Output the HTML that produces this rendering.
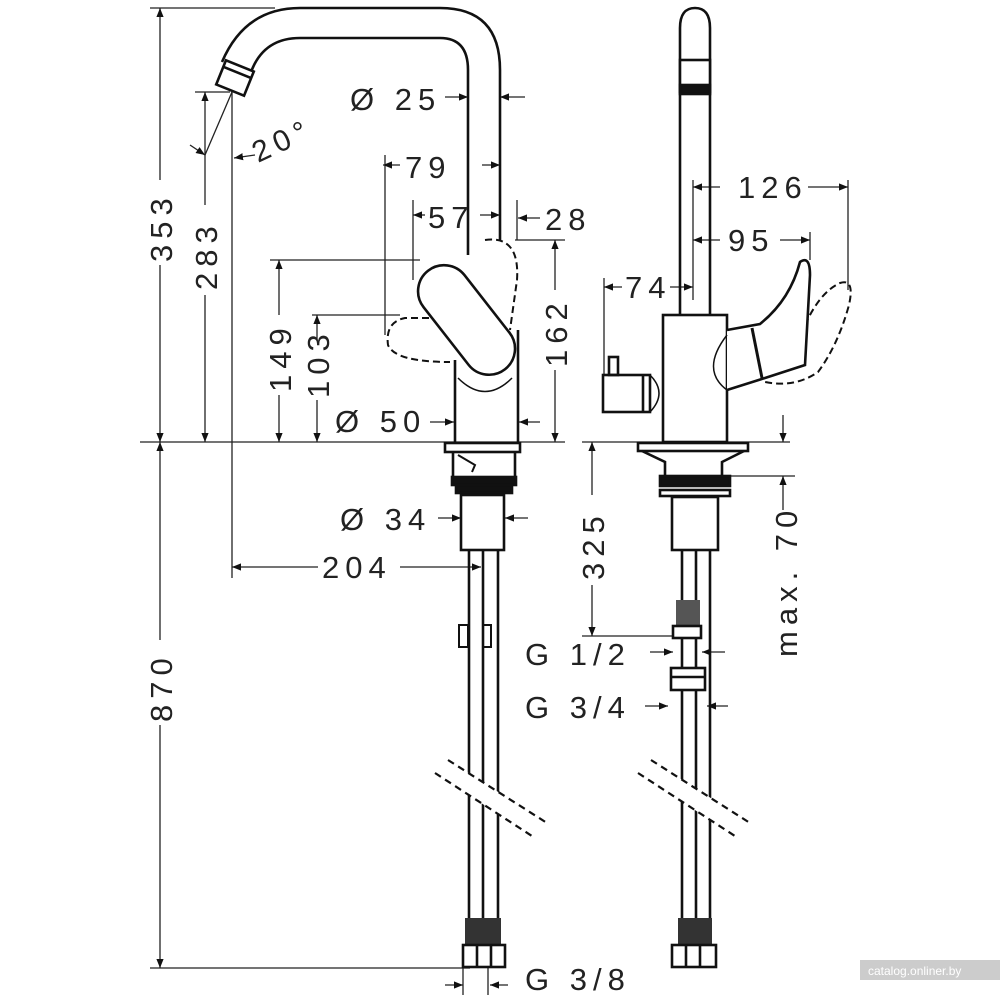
<!DOCTYPE html>
<html><head><meta charset="utf-8"><style>
html,body{margin:0;padding:0;background:#fff;}
svg{display:block;}
text{font-family:"Liberation Sans",sans-serif;font-size:31px;fill:#222;letter-spacing:6px;}
</style></head><body>
<svg width="1000" height="1000" viewBox="0 0 1000 1000" xmlns="http://www.w3.org/2000/svg">
<defs>
<marker id="a" viewBox="0 0 10 10" refX="10" refY="5" markerWidth="9" markerHeight="9" orient="auto-start-reverse" markerUnits="userSpaceOnUse"><path d="M0,1 L10,5 L0,9z" fill="#111"/></marker>
</defs>
<g stroke="#222" stroke-width="1.3" fill="none">
<line x1="140" y1="442" x2="565" y2="442"/>
<line x1="582" y1="442" x2="790" y2="442"/>
<line x1="150" y1="8" x2="275" y2="8"/>
<line x1="150" y1="968" x2="470" y2="968"/>
<line x1="195" y1="92" x2="230" y2="92"/>
<line x1="270" y1="260" x2="420" y2="260"/>
<line x1="312" y1="315" x2="400" y2="315"/>
<line x1="515" y1="240" x2="565" y2="240"/>
<line x1="385" y1="155" x2="385" y2="335"/>
<line x1="413" y1="200" x2="413" y2="280"/>
<line x1="232" y1="92" x2="232" y2="578"/>
<line x1="160" y1="8" x2="160" y2="180" marker-start="url(#a)"/>
<line x1="160" y1="265" x2="160" y2="442" marker-end="url(#a)"/>
<line x1="160" y1="442" x2="160" y2="640" marker-start="url(#a)"/>
<line x1="160" y1="725" x2="160" y2="968" marker-end="url(#a)"/>
<line x1="205" y1="92" x2="205" y2="205" marker-start="url(#a)"/>
<line x1="205" y1="295" x2="205" y2="442" marker-end="url(#a)"/>
<line x1="205" y1="155" x2="232" y2="92" />
<line x1="190" y1="145" x2="205" y2="155" marker-end="url(#a)"/>
<line x1="255" y1="155" x2="234" y2="158" marker-end="url(#a)"/>
<line x1="279" y1="260" x2="279" y2="315" marker-start="url(#a)"/>
<line x1="279" y1="395" x2="279" y2="442" marker-end="url(#a)"/>
<line x1="317" y1="315" x2="317" y2="340" marker-start="url(#a)"/>
<line x1="317" y1="400" x2="317" y2="442" marker-end="url(#a)"/>
<line x1="555" y1="240" x2="555" y2="290" marker-start="url(#a)"/>
<line x1="555" y1="370" x2="555" y2="442" marker-end="url(#a)"/>
<line x1="445" y1="97" x2="468" y2="97" marker-end="url(#a)"/>
<line x1="525" y1="97" x2="500" y2="97" marker-end="url(#a)"/>
<line x1="383" y1="165" x2="400" y2="165" marker-start="url(#a)"/>
<line x1="482" y1="165" x2="500" y2="165" marker-end="url(#a)"/>
<line x1="500" y1="150" x2="500" y2="240"/>
<line x1="413" y1="215" x2="425" y2="215" marker-start="url(#a)"/>
<line x1="480" y1="215" x2="500" y2="215" marker-end="url(#a)"/>
<line x1="517" y1="200" x2="517" y2="240"/>
<line x1="540" y1="218" x2="518" y2="218" marker-end="url(#a)"/>
<line x1="430" y1="422" x2="454" y2="422" marker-end="url(#a)"/>
<line x1="540" y1="422" x2="519" y2="422" marker-end="url(#a)"/>
<line x1="438" y1="518" x2="461" y2="518" marker-end="url(#a)"/>
<line x1="528" y1="518" x2="505" y2="518" marker-end="url(#a)"/>
<line x1="232" y1="567" x2="318" y2="567" marker-start="url(#a)"/>
<line x1="400" y1="567" x2="481" y2="567" marker-end="url(#a)"/>
<line x1="445" y1="985" x2="463" y2="985" marker-end="url(#a)"/>
<line x1="508" y1="985" x2="490" y2="985" marker-end="url(#a)"/>
<line x1="463" y1="968" x2="463" y2="995"/>
<line x1="488" y1="968" x2="488" y2="995"/>
<line x1="604" y1="278" x2="604" y2="400"/>
<line x1="604" y1="287" x2="622" y2="287" marker-start="url(#a)"/>
<line x1="670" y1="287" x2="693" y2="287" marker-end="url(#a)"/>
<line x1="693" y1="180" x2="693" y2="300"/>
<line x1="720" y1="187" x2="693" y2="187" marker-end="url(#a)"/>
<line x1="808" y1="187" x2="848" y2="187" marker-end="url(#a)"/>
<line x1="848" y1="180" x2="848" y2="290"/>
<line x1="720" y1="240" x2="693" y2="240" marker-end="url(#a)"/>
<line x1="780" y1="240" x2="810" y2="240" marker-end="url(#a)"/>
<line x1="810" y1="232" x2="810" y2="260"/>
<line x1="592" y1="442" x2="592" y2="495" marker-start="url(#a)"/>
<line x1="592" y1="585" x2="592" y2="636" marker-end="url(#a)"/>
<line x1="582" y1="636" x2="690" y2="636"/>
<line x1="783" y1="415" x2="783" y2="442" marker-end="url(#a)"/>
<line x1="783" y1="510" x2="783" y2="476" marker-end="url(#a)"/>
<line x1="725" y1="476" x2="795" y2="476"/>
<line x1="650" y1="652" x2="673" y2="652" marker-end="url(#a)"/>
<line x1="725" y1="652" x2="702" y2="652" marker-end="url(#a)"/>
<line x1="645" y1="706" x2="668" y2="706" marker-end="url(#a)"/>
<line x1="728" y1="706" x2="707" y2="706" marker-end="url(#a)"/>
</g>

<!-- LEFT FAUCET -->
<g stroke="#111" stroke-width="2.6" fill="none">
<path d="M222,62 Q245,8 300,8 L440,8 Q500,8 500,70 L500,240"/>
<path d="M250,75 Q262,38 300,38 L440,38 Q468,38 468,70 L468,255"/>
<g transform="rotate(22 235 78)"><rect x="220" y="65" width="30" height="26" fill="#fff"/><line x1="220" y1="72" x2="250" y2="72"/></g>
<line x1="455" y1="360" x2="455" y2="442"/>
<line x1="518" y1="330" x2="518" y2="442"/>
<path d="M485,240 Q520,235 517,280 L510,330" stroke-dasharray="7,4" stroke-width="2"/>
<path d="M440,318 L405,318 Q385,322 388,345 Q395,362 450,362" stroke-dasharray="7,4" stroke-width="2"/>
<g transform="rotate(52 465 318)"><rect x="405" y="292" width="125" height="52" rx="26" fill="#fff"/></g>
<path d="M458,378 Q485,405 512,378" stroke-width="1.5"/>
<rect x="445" y="443" width="75" height="9" fill="#fff"/>
<path d="M453,452 L453,478 M515,452 L515,478"/>
<path d="M458,455 L475,465 L472,472" stroke-width="2"/>
<rect x="452" y="477" width="64" height="8" fill="#111"/>
<rect x="456" y="485" width="56" height="8" fill="#111"/>
<rect x="461" y="495" width="43" height="55" fill="#fff"/>
<path d="M469,550 L469,920 M483,550 L483,920 M498,550 L498,920"/>
<rect x="459" y="625" width="9" height="22" stroke-width="2"/>
<rect x="483" y="625" width="8" height="22" stroke-width="2"/>
<rect x="465" y="918" width="36" height="28" fill="#333" stroke="none"/>
<rect x="463" y="945" width="42" height="22" fill="#fff"/>
<path d="M477,945 L477,967 M491,945 L491,967"/>
</g>

<!-- RIGHT FAUCET -->
<g stroke="#111" stroke-width="2.6" fill="none">
<path d="M680,315 L680,28 Q680,8 695,8 Q710,8 710,28 L710,315"/>
<rect x="680" y="60" width="30" height="32" fill="#fff"/>
<rect x="680" y="85" width="30" height="9" fill="#111"/>
<rect x="663" y="315" width="64" height="127" fill="#fff"/>
<path d="M805,325 Q820,292 840,283 Q855,278 849,305 Q838,345 818,372 Q795,388 765,382" stroke-dasharray="7,4" stroke-width="2"/>
<path d="M727,330 L760,324 Q790,300 800,262 Q810,255 810,275 L805,365 L765,378 L727,390" fill="#fff"/>
<path d="M752,328 L762,378" stroke-width="3"/>
<path d="M727,335 Q700,370 727,390" stroke-width="1.5"/>
<rect x="603" y="375" width="47" height="37" fill="#fff"/>
<rect x="609" y="357" width="9" height="18"/>
<line x1="643" y1="375" x2="643" y2="412"/>
<path d="M650,375 Q668,393 650,412" stroke-width="1.5"/>
<rect x="638" y="443" width="110" height="8" fill="#fff"/>
<path d="M642,451 L665,462 L665,478 M744,451 L722,462 L722,478"/>
<rect x="660" y="476" width="70" height="10" fill="#111"/>
<rect x="660" y="490" width="70" height="6" fill="#fff"/>
<rect x="672" y="497" width="46" height="53" fill="#fff"/>
<path d="M682,550 L682,920 M696,550 L696,920 M710,550 L710,920"/>
<rect x="676" y="600" width="24" height="26" fill="#555" stroke="none"/>
<rect x="673" y="626" width="28" height="12" fill="#fff"/>
<rect x="671" y="668" width="34" height="22" fill="#fff"/>
<line x1="671" y1="677" x2="705" y2="677"/>
<rect x="678" y="918" width="34" height="28" fill="#333" stroke="none"/>
<rect x="672" y="945" width="44" height="22" fill="#fff"/>
<path d="M686,945 L686,967 M700,945 L700,967"/>
</g>

<!-- pipe breaks -->
<polygon points="448,760 547,823 535,838 435,773" fill="#fff"/>
<polygon points="651,760 750,823 738,838 638,773" fill="#fff"/>
<g stroke="#111" stroke-width="2.2" stroke-dasharray="7,5">
<line x1="435" y1="773" x2="535" y2="838"/>
<line x1="448" y1="760" x2="547" y2="823"/>
<line x1="638" y1="773" x2="738" y2="838"/>
<line x1="651" y1="760" x2="750" y2="823"/>
</g>

<!-- TEXT -->
<text x="350" y="110">Ø 25</text>
<text x="405" y="178">79</text>
<text x="428" y="228">57</text>
<text x="545" y="230">28</text>
<text x="335" y="432">Ø 50</text>
<text x="340" y="530">Ø 34</text>
<text x="322" y="578">204</text>
<text x="525" y="990">G 3/8</text>
<text x="738" y="198">126</text>
<text x="728" y="251">95</text>
<text x="625" y="298">74</text>
<text x="525" y="665">G 1/2</text>
<text x="525" y="718">G 3/4</text>
<text transform="translate(258,163) rotate(-25)" style="font-size:30px">20°</text>
<g style="font-size:31px">
<text transform="translate(172,262) rotate(-90)">353</text>
<text transform="translate(217,290) rotate(-90)">283</text>
<text transform="translate(291,392) rotate(-90)">149</text>
<text transform="translate(329,398) rotate(-90)">103</text>
<text transform="translate(567,367) rotate(-90)">162</text>
<text transform="translate(172,722) rotate(-90)">870</text>
<text transform="translate(604,580) rotate(-90)">325</text>
<text transform="translate(797,657) rotate(-90)">max. 70</text>
</g>
<rect x="860" y="960" width="140" height="20" fill="#ccc"/>
<text x="868" y="975" style="font-size:12px;fill:#fff;letter-spacing:0">catalog.onliner.by</text>
</svg>
</body></html>
